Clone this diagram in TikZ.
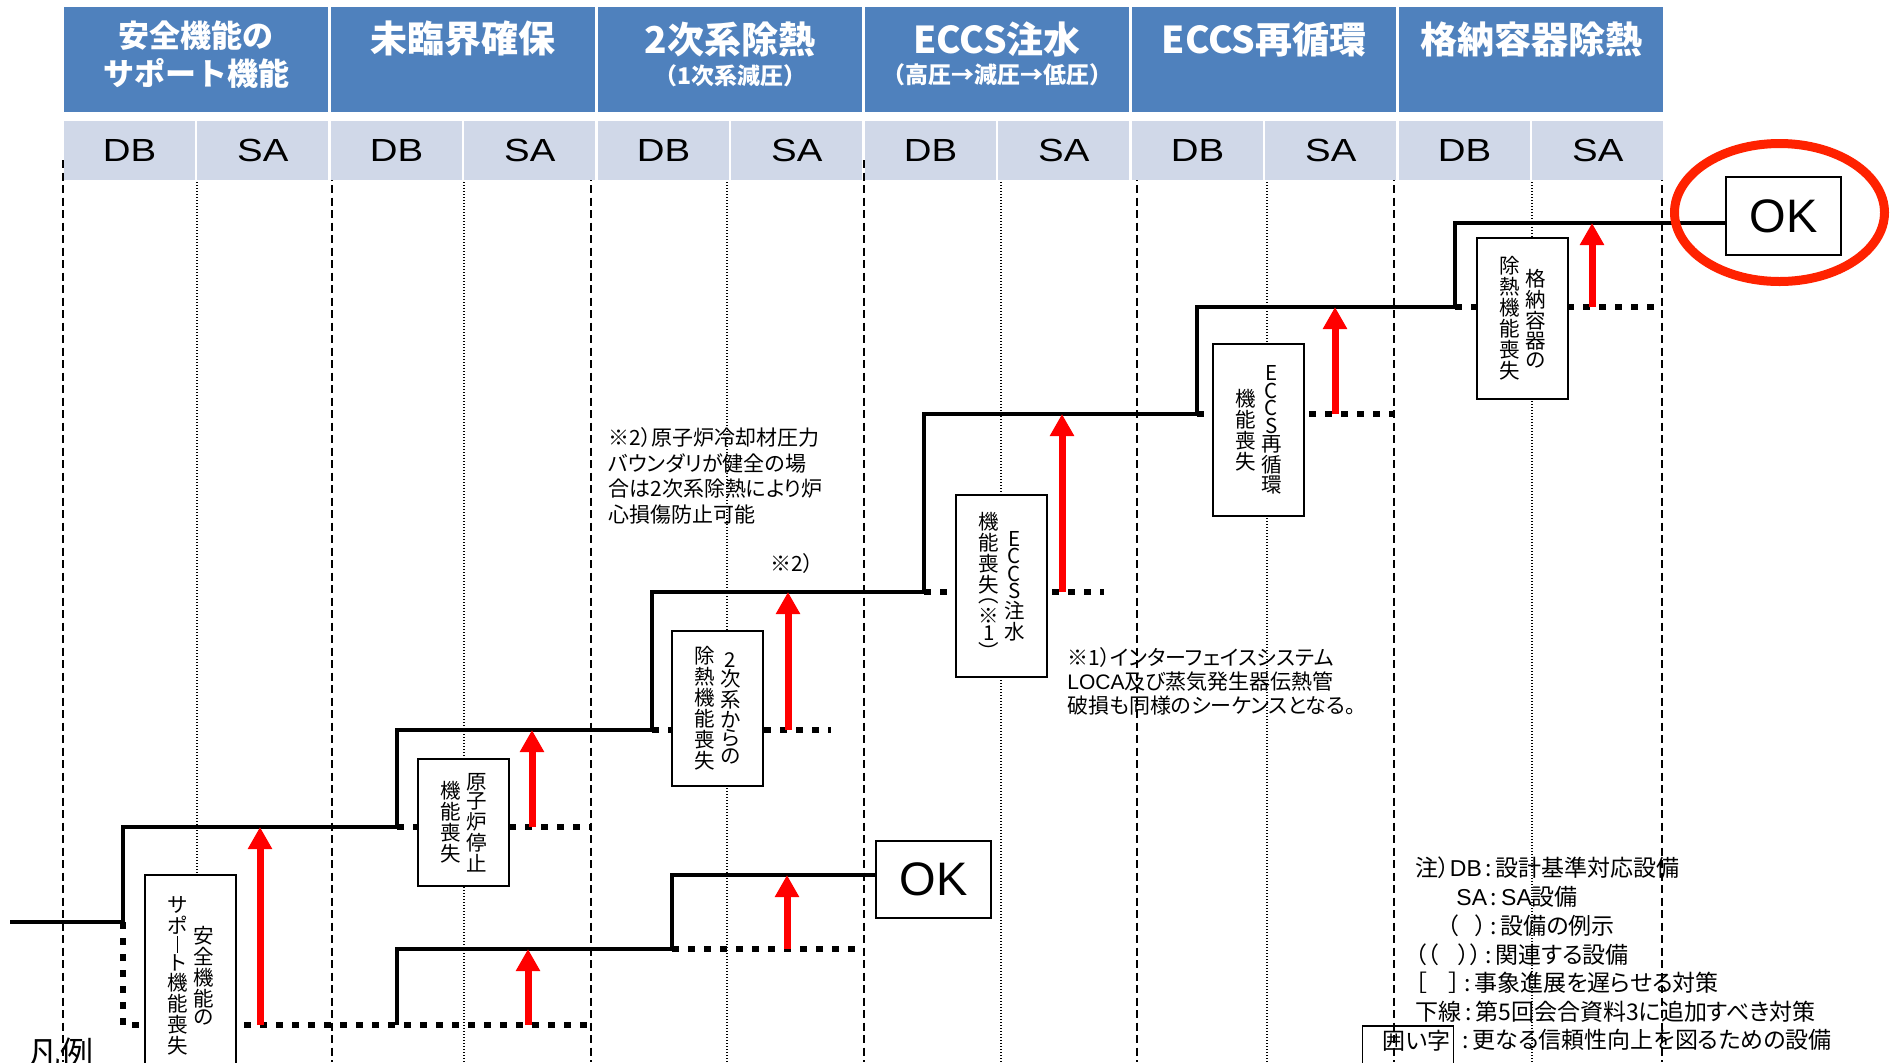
\documentclass[tikz,border=0pt]{standalone}
\usepackage{fontspec}
\usetikzlibrary{arrows.meta}
\setmainfont{Noto Sans CJK JP}
\newfontfamily\jp{Noto Sans CJK JP}
\newfontfamily\jpp{Noto Sans CJK JP}[RawFeature=+palt]
\newfontfamily\ar{Liberation Sans}
\newfontfamily\arw{Liberation Sans}[FakeStretch=1.2]
\newcommand\lat[1]{{\ar #1}}
\definecolor{hdrblue}{RGB}{79,129,189}
\definecolor{hdrgray}{RGB}{208,216,232}
\definecolor{okred}{RGB}{255,34,0}
\makeatletter
\newdimen\vt@h
\newcommand\vchoon{\vrule width 0.075em height 0.82em depth 0pt}
\newcommand\vtxt[1]{\vbox{\offinterlineskip\vt@loop#1\relax}}
\def\vt@loop#1{\ifx\relax#1\else\vt@cell{#1}\expandafter\vt@loop\fi}
\def\vt@cell#1{\setbox0\hbox{#1}\vt@h=\ht0 \advance\vt@h\dp0 \advance\vt@h0.1em \ifdim\vt@h<0.6em \vt@h=0.6em\fi \hbox to 1.1em{\hss\vbox to\vt@h{\vss\box0\vss}\hss}}
\newcommand\vpair[2]{\hbox{$\vcenter{\vtxt{#1}}$\hskip1.5pt$\vcenter{\vtxt{#2}}$}}
\makeatother
\tikzset{
 hdrbox/.style={fill=hdrblue, minimum width=132pt, minimum height=52.5pt, inner sep=0pt},
 hdrtxt/.style={text=white, font=\jp\bfseries\fontsize{18.5}{20}\selectfont, inner sep=0pt},
 hdrsub/.style={text=white, font=\jp\bfseries\fontsize{11.5}{13}\selectfont, inner sep=0pt},
 graycell/.style={fill=hdrgray, minimum width=65.5pt, minimum height=29.5pt, inner sep=0pt, font=\arw\fontsize{16}{18}\selectfont},
 gridmajor/.style={line width=0.75pt, dash pattern=on 4pt off 2.25pt},
 gridminor/.style={line width=0.65pt, dash pattern=on 0.6pt off 0.9pt},
 okpath/.style={line width=2pt},
 ngpath/.style={line width=3.25pt, dash pattern=on 3.25pt off 4.75pt},
 recover/.style={draw=red, line width=3.5pt, -{Triangle[width=11.5pt,length=11pt]}},
 lossbox/.style={draw, line width=1pt, fill=white, inner sep=0pt, minimum width=45.5pt, font=\jp\fontsize{10.25}{10.25}\selectfont},
 okbox/.style={draw, line width=1pt, fill=white, inner sep=0pt, minimum width=57.5pt, minimum height=39pt, font=\ar\fontsize{23.5}{24}\selectfont},
 note/.style={font=\jpp\fontsize{10.5}{12.85}\selectfont, inner sep=0pt, align=left, anchor=north west},
 legend/.style={font=\jpp\fontsize{11.5}{14}\selectfont, inner sep=0pt, anchor=west},
}
\begin{document}
\begin{tikzpicture}[x=0.5pt, y=-0.5pt]
\useasboundingbox (0,0) rectangle (1895,1062);
\fill[white] (0,0) rectangle (1895,1062);
% grid lines
\foreach \gx in {63,332,591,864,1137,1394,1662} \draw[gridmajor] (\gx,160) -- (\gx,1062);
\foreach \gx in {197,464,727,1001,1267,1532} \draw[gridminor] (\gx,182) -- (\gx,1062);
% header
\node[hdrbox] (h1) at (196,59.5) {};
\node[hdrbox] (h2) at (463,59.5) {};
\node[hdrbox] (h3) at (730,59.5) {};
\node[hdrbox] (h4) at (997,59.5) {};
\node[hdrbox] (h5) at (1264,59.5) {};
\node[hdrbox] (h6) at (1531,59.5) {};
\node[hdrtxt, font=\jp\bfseries\fontsize{15.5}{16}\selectfont] (h1a) at (196,36) {安全機能の};
\node[hdrtxt, font=\jp\bfseries\fontsize{15.5}{16}\selectfont] (h1b) at (196,73) {サポート機能};
\node[hdrtxt] (h2a) at (463,39) {未臨界確保};
\node[hdrtxt] (h3a) at (730,39) {2次系除熱};
\node[hdrsub] (h3b) at (730,76) {（1次系減圧）};
\node[hdrtxt] (h4a) at (997,39) {ECCS注水};
\node[hdrsub] (h4b) at (997,75) {（高圧→減圧→低圧）};
\node[hdrtxt] (h5a) at (1264,39) {ECCS再循環};
\node[hdrtxt] (h6a) at (1531,39) {格納容器除熱};
\node[graycell] (db1) at (129.5,150.5) {DB};
\node[graycell] (sa1) at (262.75,150.5) {SA};
\node[graycell] (db2) at (396.5,150.5) {DB};
\node[graycell] (sa2) at (529.75,150.5) {SA};
\node[graycell] (db3) at (663.5,150.5) {DB};
\node[graycell] (sa3) at (796.75,150.5) {SA};
\node[graycell] (db4) at (930.5,150.5) {DB};
\node[graycell] (sa4) at (1063.75,150.5) {SA};
\node[graycell] (db5) at (1197.5,150.5) {DB};
\node[graycell] (sa5) at (1330.75,150.5) {SA};
\node[graycell] (db6) at (1464.5,150.5) {DB};
\node[graycell] (sa6) at (1597.75,150.5) {SA};
% OK boxes
\node[okbox] (okT) at (1783.5,216) {OK};
\node[okbox, minimum height=38.5pt] (okM) at (933.5,879.5) {OK};
% staircase coordinates
\coordinate (p0) at (10,922);
\coordinate (p1) at (123,922);
\coordinate (p2) at (123,827);
\coordinate (p3) at (397,827);
\coordinate (p4) at (397,730);
\coordinate (p5) at (652,730);
\coordinate (p6) at (652,592);
\coordinate (p7) at (924,592);
\coordinate (p8) at (924,414);
\coordinate (p9) at (1197,414);
\coordinate (p10) at (1197,307);
\coordinate (p11) at (1455,307);
\coordinate (p12) at (1455,223);
\coordinate (q0) at (397,1025);
\coordinate (q1) at (397,949);
\coordinate (q2) at (672,949);
\coordinate (q3) at (672,875);
\coordinate (d0) at (123,1025);
\coordinate (d1) at (591,1025);
\coordinate (e3) at (591,827);
\coordinate (e5) at (831,730);
\coordinate (e7) at (1104,592);
\coordinate (e9) at (1394,414);
\coordinate (e11) at (1654,307);
\coordinate (eq2) at (858,949);
% solid success paths
\draw[okpath] (p0) -- (p1) -- (p2) -- (p3) -- (p4) -- (p5) -- (p6) -- (p7) -- (p8) -- (p9) -- (p10) -- (p11) -- (p12) -- (p12 -| okT.west);
\draw[okpath] (q0) -- (q1) -- (q2) -- (q3) -- (q3 -| okM.west);
% dotted failure paths
\draw[ngpath] (p1) -- (d0) -- (d1);
\draw[ngpath] (p3) -- (e3);
\draw[ngpath] (p5) -- (e5);
\draw[ngpath] (p7) -- (e7);
\draw[ngpath] (p9) -- (e9);
\draw[ngpath] (p11) -- (e11);
\draw[ngpath] (q2) -- (eq2);
% loss boxes
\node[lossbox, minimum height=101pt] (bA) at (190.5,976) {\vpair{サポ\vchoon ト機能喪失}{安全機能の}};
\node[lossbox, minimum height=63.5pt] (bB) at (463.5,822.5) {\vpair{機能喪失}{原子炉停止}};
\node[lossbox, minimum height=77.5pt] (bC) at (717.5,708.5) {\vpair{除熱機能喪失}{2次系からの}};
\node[lossbox, minimum height=91pt] (bD) at (1001.5,586) {\vpair{機能喪失︵※1︶}{ECCS注水}};
\node[lossbox, minimum height=86pt] (bE) at (1258.5,430) {\vpair{機能喪失}{ECCS再循環}};
\node[lossbox, minimum height=80.5pt] (bF) at (1522.5,318.5) {\vpair{除熱機能喪失}{格納容器の}};
% recovery arrows
\coordinate (a1s) at (260,1025); \coordinate (a1e) at (260,827);
\coordinate (a2s) at (532,827); \coordinate (a2e) at (532,730);
\coordinate (a3s) at (788,730); \coordinate (a3e) at (788,592);
\coordinate (a4s) at (1062,592); \coordinate (a4e) at (1062,414);
\coordinate (a5s) at (1335,414); \coordinate (a5e) at (1335,307);
\coordinate (a6s) at (1592,307); \coordinate (a6e) at (1592,223);
\coordinate (a7s) at (528,1025); \coordinate (a7e) at (528,949);
\coordinate (a8s) at (787,949); \coordinate (a8e) at (787,875);
\draw[recover] (a1s) -- (a1e);
\draw[recover] (a2s) -- (a2e);
\draw[recover] (a3s) -- (a3e);
\draw[recover] (a4s) -- (a4e);
\draw[recover] (a5s) -- (a5e);
\draw[recover] (a6s) -- (a6e);
\draw[recover] (a7s) -- (a7e);
\draw[recover] (a8s) -- (a8e);
% red ellipse
\draw[okred, line width=4.5pt] (1779.5,212.5) ellipse [x radius=52.5pt, y radius=34.5pt];
% notes
\node[note] (n2) at (608,427) {※2）原子炉冷却材圧力\\バウンダリが健全の場\\合は2次系除熱により炉\\心損傷防止可能};
\node[font=\jpp\fontsize{10.5}{12}\selectfont, inner sep=0pt, anchor=west] (n2b) at (770,564) {※2）};
\node[note, font=\jpp\fontsize{10.5}{12}\selectfont] (n1) at (1067,647) {※1）インターフェイスシステム\\\lat{LOCA}及び蒸気発生器伝熱管\\破損も同様のシーケンスとなる。};
% legend
\node[legend] (lg1) at (1415,868) {注）\lat{DB}\,:\,設計基準対応設備};
\node[legend] (lg2) at (1456,897) {\lat{SA}\,:\,\lat{SA}設備};
\node[legend] (lg3) at (1447,926) {（\hspace{8pt}）\,:\,設備の例示};
\node[legend] (lg4) at (1415,955) {（（\hspace{10pt}））\,:\,関連する設備};
\node[legend] (lg5) at (1415,983) {［\hspace{11pt}］\,:\,事象進展を遅らせる対策};
\node[legend] (lg6) at (1415,1012) {下線\,:\,第5回会合資料3に追加すべき対策};
\node[legend] (lg7) at (1462,1040) {:\,更なる信頼性向上を図るための設備};
\node[draw, line width=0.75pt, anchor=north east, font=\jpp\fontsize{11.5}{14}\selectfont, text width=42.5pt, align=right, inner xsep=1.5pt, inner ysep=1.5pt, text height=10.35pt, text depth=12pt] (kakoi) at (1454,1025) {囲い字};
\node[font=\jp\fontsize{16.5}{18}\selectfont, inner sep=0pt] (hanrei) at (60,1053) {凡例};
\end{tikzpicture}
\end{document}
